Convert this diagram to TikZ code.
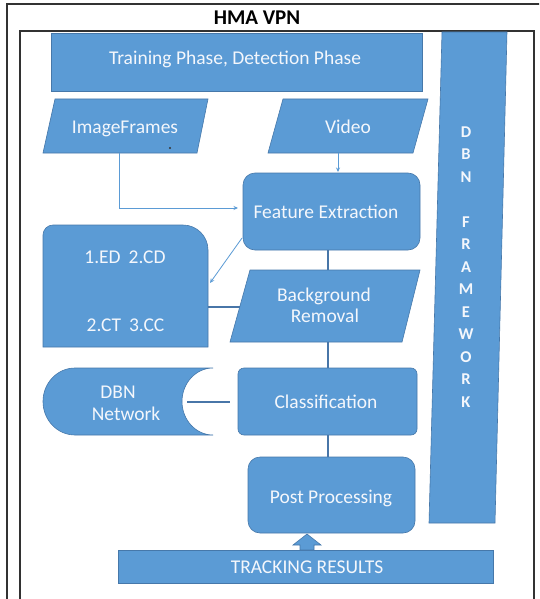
\documentclass[tikz,border=0pt]{standalone}
\usepackage{fontspec}
\setmainfont{Carlito}
\usetikzlibrary{arrows.meta}
\definecolor{boxblue}{RGB}{91,155,213}
\definecolor{edgeblue}{RGB}{70,120,170}
\definecolor{linkblue}{RGB}{72,118,168}
\definecolor{txtw}{RGB}{244,247,252}
\definecolor{framegray}{RGB}{50,50,50}
\begin{document}
\begin{tikzpicture}[x=1pt,y=-1pt,
  shp/.style={fill=boxblue, draw=edgeblue, line width=0.6pt},
  lbl/.style={text=txtw, font=\fontsize{19.5}{22}\selectfont, inner sep=0pt, anchor=base},
  ltr/.style={text=txtw, font=\bfseries\fontsize{16.5}{18}\selectfont, inner sep=0pt, anchor=base},
  frame/.style={draw=framegray, line width=1.3pt},
  thicklink/.style={draw=linkblue, line width=2pt},
  thinlink/.style={draw=boxblue, line width=0.8pt, -{Stealth[length=4.5pt,width=4pt]}}]
\useasboundingbox (0,0) rectangle (539,599);
\clip (0,0) rectangle (539,599);
\fill[white] (0,0) rectangle (539,599);
% frames
\draw[frame] (7,640) -- (7,4) -- (600,4);
\draw[frame] (20,640) -- (20,31) -- (534,31) -- (534,640);
\node[font=\bfseries\fontsize{21}{24}\selectfont, inner sep=0pt, anchor=base] (title) at (257,25) {HMA VPN};
% top box
\draw[shp] (51,33) rectangle (422,91);
\node[lbl] (phase) at (235,65) {Training Phase, Detection Phase};
% DBN framework column
\draw[shp] (442,32) -- (507,32) -- (495,523) -- (429,523) -- cycle;
\foreach \c [count=\i from 0] in {D,B,N,{},F,R,A,M,E,W,O,R,K}
  \node[ltr] (L\i) at (466,137+\i*22.5) {\c};
% inputs
\draw[shp] (55,99) -- (208,99) -- (197,153) -- (43,153) -- cycle;
\node[lbl] (imgf) at (125,133) {ImageFrames};
\fill[black!80] (170,148) circle (1.2);
\draw[shp] (283,99) -- (428,99) -- (413,153) -- (268,153) -- cycle;
\node[lbl] (video) at (348,133) {Video};
% feature extraction
\draw[shp, rounded corners=12] (243,173) rectangle (420,250);
\node[lbl] (fe) at (326,218) {Feature Extraction};
% left feature box
\draw[shp] (43,347) -- (43,235) .. controls (43,229.5) and (47.5,225) .. (53,225)
  -- (183,225) .. controls (196.8,225) and (208,236.2) .. (208,250) -- (208,347) -- cycle;
\node[lbl] (f1) at (125,263) {1.ED\hspace{8pt}2.CD};
\node[lbl] (f2) at (125.5,331) {2.CT\hspace{8pt}3.CC};
% background removal
\draw[shp] (250,270) -- (420,270) -- (402,342) -- (230,342) -- cycle;
\node[lbl] (bg1) at (324,301) {Background};
\node[lbl] (bg2) at (325,322) {Removal};
% classification
\draw[shp, rounded corners=6] (238,368) rectangle (417,435);
\node[lbl] (cls) at (326,408) {Classification};
% DBN network
\draw[shp] (213,368) -- (75,368) .. controls (57.3,368) and (43,383) .. (43,401.5)
  .. controls (43,420) and (57.3,435) .. (75,435) -- (213,435)
  .. controls (195.9,435) and (182,420) .. (182,401.5)
  .. controls (182,383) and (195.9,368) .. (213,368) -- cycle;
\node[lbl] (dbn1) at (118,398) {DBN};
\node[lbl] (dbn2) at (126,420) {Network};
% post processing
\draw[shp, rounded corners=12] (248,457) rectangle (415,533);
\node[lbl] (pp) at (331,503) {Post Processing};
% tracking results
\draw[shp] (118,550) rectangle (493,583);
\node[lbl] (tr) at (307,573) {TRACKING RESULTS};
\draw[shp] (307,534) -- (321,545) -- (314,545) -- (314,550) -- (300,550) -- (300,545) -- (293,545) -- cycle;
% connector coordinates
\coordinate (imgfS) at (119,153);
\coordinate (feW) at (238,208);
\coordinate (videoS) at (338,153);
\coordinate (feN) at (338,172);
\coordinate (feSW) at (242,238);
\coordinate (fbE) at (210,283);
\coordinate (fbE2) at (208,307);
\coordinate (bgW) at (240,307);
\coordinate (feS) at (328,250);
\coordinate (bgN) at (328,270);
\coordinate (bgS) at (328,342);
\coordinate (clsN) at (328,368);
\coordinate (clsS) at (328,435);
\coordinate (ppN) at (328,457);
\coordinate (dbnE) at (187,402);
\coordinate (clsW) at (230,402);
% connectors
\draw[thinlink] (imgfS) |- (feW);
\draw[thinlink] (videoS) -- (feN);
\draw[thinlink] (feSW) -- (fbE);
\draw[thicklink] (fbE2) -- (bgW);
\draw[thicklink] (feS) -- (bgN);
\draw[thicklink] (bgS) -- (clsN);
\draw[thicklink] (clsS) -- (ppN);
\draw[thicklink] (dbnE) -- (clsW);
\end{tikzpicture}
\end{document}
